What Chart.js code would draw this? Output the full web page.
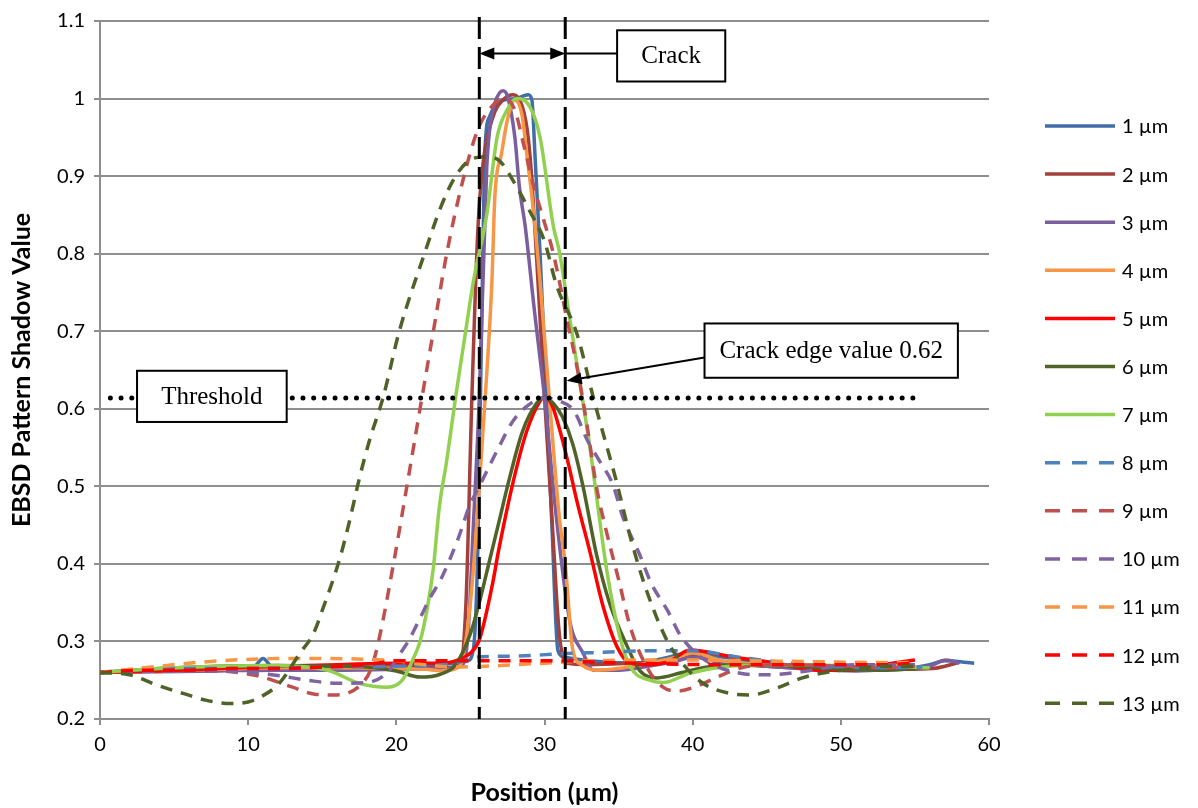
<!DOCTYPE html>
<html>
<head>
<meta charset="utf-8">
<title>EBSD Pattern Shadow Value</title>
<script src="https://cdn.jsdelivr.net/npm/chart.js@4.4.1/dist/chart.umd.min.js"></script>
<style>
  html, body { margin: 0; padding: 0; background: #fff; }
  #wrap { width: 1198px; height: 808px; }
  canvas { background: #fff; }
</style>
</head>
<body>
<div id="wrap"><canvas id="chart" width="1198" height="808"></canvas></div>
<script>
// Series: position (µm) and shadow value
const seriesLabels = ['1 µm', '2 µm', '3 µm', '4 µm', '5 µm', '6 µm', '7 µm',
                      '8 µm', '9 µm', '10 µm', '11 µm', '12 µm', '13 µm'];

const x1 = [0, 3, 6, 9, 10.3, 11, 11.7, 14, 17, 20, 22, 24, 24.8, 25.2, 25.5, 25.75, 26, 26.3, 27, 28.1, 28.9, 29.15, 29.35, 29.7, 30.1, 30.5, 30.9, 31.3, 33, 36, 38, 40, 42, 45, 48, 51, 54, 56, 57, 59];
const y1 = [0.26, 0.262, 0.264, 0.266, 0.266, 0.278, 0.266, 0.266, 0.266, 0.268, 0.27, 0.272, 0.275, 0.29, 0.42, 0.7, 0.94, 0.977, 0.996, 1.0, 1.005, 0.998, 0.93, 0.8, 0.63, 0.45, 0.289, 0.28, 0.275, 0.272, 0.278, 0.286, 0.28, 0.272, 0.268, 0.265, 0.265, 0.27, 0.275, 0.272];

const x2 = [0, 4, 8, 12, 16, 20, 23, 24.3, 24.7, 25.1, 25.5, 25.85, 26.5, 27.3, 27.9, 28.5, 28.9, 29.15, 29.6, 30.0, 30.5, 31.0, 31.5, 33, 36, 38, 40, 42, 45, 48, 51, 54, 56.2, 58];
const y2 = [0.26, 0.262, 0.264, 0.265, 0.266, 0.266, 0.266, 0.27, 0.35, 0.615, 0.83, 0.916, 0.975, 1.0, 1.005, 0.99, 0.95, 0.895, 0.75, 0.615, 0.46, 0.31, 0.272, 0.27, 0.272, 0.274, 0.282, 0.274, 0.268, 0.265, 0.263, 0.264, 0.265, 0.273];

const x3 = [0, 4, 8, 12, 16, 20, 23, 24.3, 24.8, 25.2, 25.6, 26.1, 26.3, 26.65, 27.2, 27.5, 28.0, 28.3, 28.7, 29.3, 30.0, 30.8, 31.7, 32.6, 33.3, 35, 37, 39, 40, 42, 45, 48, 51, 54, 56, 57.1, 58];
const y3 = [0.26, 0.261, 0.262, 0.263, 0.263, 0.264, 0.265, 0.268, 0.3, 0.45, 0.615, 0.91, 0.96, 0.994, 1.01, 1.003, 0.95, 0.887, 0.835, 0.73, 0.615, 0.46, 0.327, 0.285, 0.263, 0.263, 0.268, 0.275, 0.28, 0.272, 0.268, 0.264, 0.262, 0.265, 0.268, 0.276, 0.272];

const x4 = [0, 4, 8, 12, 16, 20, 22, 23, 24, 24.5, 25.0, 25.4, 26.0, 26.45, 26.65, 27.1, 27.5, 28.0, 28.5, 28.8, 29.2, 29.7, 30.3, 31.0, 31.4, 31.9, 32.5, 33.5, 35, 37, 39, 40, 42, 45, 48, 51, 54, 55];
const y4 = [0.26, 0.262, 0.264, 0.266, 0.266, 0.265, 0.264, 0.262, 0.265, 0.28, 0.35, 0.443, 0.615, 0.764, 0.874, 0.929, 0.973, 0.998, 0.977, 0.929, 0.865, 0.764, 0.62, 0.46, 0.4, 0.29, 0.27, 0.263, 0.265, 0.272, 0.28, 0.285, 0.275, 0.27, 0.268, 0.266, 0.268, 0.27];

const x5 = [0, 4, 8, 12, 16, 20, 23, 24, 25, 25.6, 26.5, 26.9, 27.9, 28.8, 29.7, 30.0, 30.5, 31.0, 31.6, 32.2, 33.1, 33.9, 34.9, 35.8, 37, 38.5, 39.8, 42.7, 45.7, 48.4, 50.5, 52.8, 55];
const y5 = [0.26, 0.262, 0.265, 0.268, 0.27, 0.272, 0.272, 0.275, 0.285, 0.302, 0.375, 0.417, 0.507, 0.571, 0.61, 0.615, 0.605, 0.575, 0.53, 0.48, 0.413, 0.349, 0.293, 0.272, 0.27, 0.275, 0.289, 0.28, 0.272, 0.263, 0.263, 0.27, 0.276];

const x6 = [0, 4, 8, 12, 16, 18, 20, 21.6, 23, 24, 25, 25.6, 26.3, 27.0, 27.5, 28.5, 29.5, 30.0, 30.6, 31.2, 31.9, 32.6, 33.5, 34.4, 35.6, 36.4, 37.6, 39.3, 41, 44, 47, 50, 53, 55];
const y6 = [0.26, 0.265, 0.268, 0.269, 0.268, 0.267, 0.262, 0.254, 0.258, 0.27, 0.31, 0.35, 0.405, 0.46, 0.5, 0.57, 0.608, 0.615, 0.607, 0.59, 0.555, 0.5, 0.413, 0.349, 0.293, 0.263, 0.253, 0.26, 0.267, 0.27, 0.268, 0.264, 0.263, 0.265];

const x7 = [0, 4, 8, 12, 14, 15.5, 17.5, 19.4, 20.4, 21.1, 21.6, 22.1, 22.5, 22.9, 23.4, 24.0, 24.6, 25.2, 26.1, 26.8, 27.5, 28.1, 29.0, 29.7, 30.6, 31.0, 31.7, 32.4, 33.1, 33.7, 34.2, 35.1, 35.8, 37.1, 38, 39.8, 42, 45, 48, 51, 53, 56];
const y7 = [0.26, 0.265, 0.268, 0.269, 0.267, 0.262, 0.246, 0.241, 0.25, 0.276, 0.3, 0.344, 0.395, 0.473, 0.533, 0.615, 0.69, 0.764, 0.85, 0.95, 0.986, 1.0, 0.99, 0.95, 0.835, 0.803, 0.717, 0.632, 0.546, 0.46, 0.392, 0.305, 0.267, 0.25, 0.247, 0.259, 0.267, 0.27, 0.27, 0.268, 0.268, 0.266];

const x8 = [0, 3, 6, 10, 15, 20, 24, 25.4, 28, 31, 34, 37, 40, 43, 46, 50, 53, 55.5];
const y8 = [0.26, 0.263, 0.265, 0.265, 0.267, 0.268, 0.272, 0.28, 0.281, 0.284, 0.286, 0.288, 0.288, 0.28, 0.273, 0.267, 0.266, 0.267];

const x9 = [0, 4, 8, 10, 11, 13, 14.5, 16, 17.7, 18.3, 18.8, 19.9, 20.8, 21.6, 22.5, 23.4, 24.5, 25.5, 26.6, 27.3, 28.0, 28.6, 29.3, 30.0, 30.6, 31.5, 32.2, 32.9, 33.5, 34.2, 35.0, 35.8, 36.9, 38.0, 39.0, 40.5, 42, 43.5, 46, 50, 53, 55];
const y9 = [0.26, 0.262, 0.262, 0.258, 0.254, 0.241, 0.232, 0.231, 0.246, 0.265, 0.3, 0.41, 0.51, 0.6, 0.7, 0.8, 0.895, 0.96, 0.993, 1.0, 0.985, 0.94, 0.885, 0.84, 0.8, 0.717, 0.653, 0.575, 0.5, 0.44, 0.38, 0.318, 0.267, 0.241, 0.236, 0.244, 0.257, 0.267, 0.27, 0.268, 0.266, 0.268];

const x10 = [0, 4, 8, 10, 12, 14, 16, 18, 19.5, 20.1, 20.8, 21.6, 22.3, 23.0, 24.2, 24.9, 25.6, 26.8, 27.9, 29.0, 30.0, 31.0, 32.0, 32.9, 33.7, 34.6, 35.3, 36.4, 37.2, 38.3, 39.2, 40.4, 41.6, 43.2, 45, 47, 49, 51, 53, 55];
const y10 = [0.26, 0.262, 0.262, 0.26, 0.256, 0.25, 0.246, 0.247, 0.262, 0.28, 0.3, 0.33, 0.357, 0.38, 0.434, 0.473, 0.5, 0.546, 0.585, 0.606, 0.614, 0.61, 0.597, 0.559, 0.533, 0.503, 0.46, 0.413, 0.375, 0.34, 0.307, 0.282, 0.268, 0.259, 0.257, 0.26, 0.266, 0.27, 0.27, 0.27];

const x11 = [0, 2, 4, 6, 9, 12, 15, 18, 20, 22, 24, 26, 28, 30, 33, 36, 40, 44, 48, 52, 54.8];
const y11 = [0.26, 0.264, 0.268, 0.272, 0.276, 0.278, 0.278, 0.277, 0.275, 0.27, 0.267, 0.268, 0.27, 0.272, 0.275, 0.276, 0.276, 0.275, 0.274, 0.273, 0.273];

const x12 = [0, 3, 6, 9, 12, 15, 18, 20, 23, 25, 28, 31, 34, 38, 42, 46, 50, 53, 55];
const y12 = [0.26, 0.263, 0.263, 0.265, 0.265, 0.267, 0.27, 0.275, 0.275, 0.275, 0.275, 0.275, 0.273, 0.271, 0.27, 0.27, 0.27, 0.27, 0.272];

const x13 = [0, 2, 3.8, 5.6, 7.2, 8.8, 10, 10.8, 12.1, 13.5, 14.4, 15.0, 16.2, 16.9, 17.5, 18.2, 19.1, 20.2, 21.9, 23.0, 24.0, 25.2, 26.2, 27.0, 28.1, 29.0, 30.0, 30.8, 32.2, 33.3, 34.9, 35.8, 36.9, 38.3, 39.3, 40.7, 42.5, 43.9, 45.7, 47.4, 49, 51, 53, 55];
const y13 = [0.26, 0.257, 0.244, 0.233, 0.224, 0.22, 0.222, 0.228, 0.246, 0.285, 0.31, 0.34, 0.408, 0.46, 0.51, 0.56, 0.614, 0.7, 0.8, 0.86, 0.9, 0.923, 0.925, 0.919, 0.887, 0.855, 0.816, 0.76, 0.696, 0.614, 0.503, 0.434, 0.365, 0.3, 0.272, 0.246, 0.233, 0.231, 0.24, 0.253, 0.26, 0.265, 0.268, 0.268];

const seriesX = [x1, x2, x3, x4, x5, x6, x7, x8, x9, x10, x11, x12, x13];
const seriesY = [y1, y2, y3, y4, y5, y6, y7, y8, y9, y10, y11, y12, y13];

const seriesColors = ['#3F6EA8', '#A3403C', '#7A5E9E', '#F79646', '#FF0000', '#4F6228', '#92D050',
                      '#4F81BD', '#C0504D', '#8064A2', '#F79646', '#FF0000', '#4F6228'];

// Annotation values (µm / shadow value)
const crackEdges = [25.6, 31.4];
const thresholdValue = 0.614;
const thresholdSpan = [0.7, 55];
const crackArrowLevel = 1.058;
const thresholdBox = { x0: 2.5, x1: 12.6, y0: 0.649, y1: 0.583, text: 'Threshold' };
const crackBox = { x0: 34.9, x1: 42.2, y0: 1.088, y1: 1.022, text: 'Crack' };
const edgeBox = { x0: 40.8, x1: 57.9, y0: 0.71, y1: 0.64, text: 'Crack edge value 0.62' };
const edgeArrow = { from: [40.8, 0.666], to: [31.5, 0.636] };

const FONT = 'Lato, "Open Sans", sans-serif';
const SERIF = '"Liberation Serif", "DejaVu Serif", serif';
const GRID = '#8e8e8e';

function toPoints(xs, ys) {
    return xs.map((x, i) => ({ x: x, y: ys[i] }));
}

const datasets = seriesLabels.map((label, i) => ({
    label: label,
    data: toPoints(seriesX[i], seriesY[i]),
    borderColor: seriesColors[i],
    backgroundColor: seriesColors[i],
    borderWidth: 3.5,
    borderDash: i >= 7 ? [12, 9] : [],
    pointRadius: 0,
    fill: false,
    cubicInterpolationMode: 'monotone',
    order: seriesLabels.length - i
}));

function arrowHead(ctx, fx, fy, tx, ty, len, half) {
    const a = Math.atan2(ty - fy, tx - fx);
    ctx.beginPath();
    ctx.moveTo(tx, ty);
    ctx.lineTo(tx - len * Math.cos(a) + half * Math.sin(a), ty - len * Math.sin(a) - half * Math.cos(a));
    ctx.lineTo(tx - len * Math.cos(a) - half * Math.sin(a), ty - len * Math.sin(a) + half * Math.cos(a));
    ctx.closePath();
    ctx.fill();
}

function textBox(ctx, x, y, box) {
    const l = x.getPixelForValue(box.x0), r = x.getPixelForValue(box.x1);
    const t = y.getPixelForValue(box.y0), b = y.getPixelForValue(box.y1);
    ctx.setLineDash([]);
    ctx.fillStyle = '#fff';
    ctx.fillRect(l, t, r - l, b - t);
    ctx.strokeStyle = '#000';
    ctx.lineWidth = 2;
    ctx.strokeRect(l, t, r - l, b - t);
    ctx.fillStyle = '#000';
    ctx.font = '25px ' + SERIF;
    ctx.textAlign = 'center';
    ctx.textBaseline = 'middle';
    ctx.fillText(box.text, (l + r) / 2, (t + b) / 2 + 1);
}

const annotations = {
    id: 'annotations',
    afterDatasetsDraw(chart) {
        const { ctx, chartArea } = chart;
        const x = chart.scales.x, y = chart.scales.y;
        ctx.save();
        ctx.strokeStyle = '#000';
        ctx.fillStyle = '#000';

        // threshold dotted line
        ctx.lineWidth = 5;
        ctx.lineCap = 'round';
        ctx.setLineDash([0, 10.7]);
        const ty = y.getPixelForValue(thresholdValue);
        ctx.beginPath();
        ctx.moveTo(x.getPixelForValue(thresholdSpan[0]), ty);
        ctx.lineTo(x.getPixelForValue(thresholdSpan[1]), ty);
        ctx.stroke();

        // crack edges
        ctx.lineCap = 'butt';
        ctx.lineWidth = 3;
        ctx.setLineDash([22, 8]);
        crackEdges.forEach(v => {
            const px = x.getPixelForValue(v);
            ctx.beginPath();
            ctx.moveTo(px, chartArea.top - 4);
            ctx.lineTo(px, chartArea.bottom);
            ctx.stroke();
        });

        // crack width double arrow + connector to label
        ctx.setLineDash([]);
        ctx.lineWidth = 2;
        const ay = y.getPixelForValue(crackArrowLevel);
        const ax0 = x.getPixelForValue(crackEdges[0]), ax1 = x.getPixelForValue(crackEdges[1]);
        const bx = x.getPixelForValue(crackBox.x0);
        ctx.beginPath();
        ctx.moveTo(ax0 + 8, ay);
        ctx.lineTo(ax1 - 8, ay);
        ctx.moveTo(ax1, ay);
        ctx.lineTo(bx, ay);
        ctx.stroke();
        arrowHead(ctx, ax1, ay, ax0, ay, 15, 6);
        arrowHead(ctx, ax0, ay, ax1, ay, 15, 6);

        // arrow to crack edge value
        const fx = x.getPixelForValue(edgeArrow.from[0]), fy = y.getPixelForValue(edgeArrow.from[1]);
        const tx = x.getPixelForValue(edgeArrow.to[0]), tyy = y.getPixelForValue(edgeArrow.to[1]);
        const ang = Math.atan2(tyy - fy, tx - fx);
        ctx.beginPath();
        ctx.moveTo(fx, fy);
        ctx.lineTo(tx - 12 * Math.cos(ang), tyy - 12 * Math.sin(ang));
        ctx.stroke();
        arrowHead(ctx, fx, fy, tx, tyy, 15, 6);

        textBox(ctx, x, y, thresholdBox);
        textBox(ctx, x, y, crackBox);
        textBox(ctx, x, y, edgeBox);
        ctx.restore();
    }
};

const legendLines = {
    id: 'legendLines',
    afterDraw(chart) {
        const ctx = chart.ctx;
        ctx.save();
        chart.data.datasets.forEach((ds, i) => {
            const ly = 126 + i * 48.1;
            ctx.strokeStyle = ds.borderColor;
            ctx.lineWidth = 3.5;
            ctx.setLineDash(ds.borderDash.length ? [15, 12] : []);
            ctx.beginPath();
            ctx.moveTo(1045, ly);
            ctx.lineTo(1115, ly);
            ctx.stroke();
            ctx.fillStyle = '#000';
            ctx.font = '20px ' + FONT;
            ctx.textAlign = 'left';
            ctx.textBaseline = 'middle';
            ctx.fillText(ds.label, 1122, ly + 1);
        });
        ctx.restore();
    }
};

new Chart(document.getElementById('chart').getContext('2d'), {
    type: 'line',
    data: { datasets: datasets },
    options: {
        responsive: false,
        animation: false,
        layout: { padding: { top: 19, right: 209, left: 0, bottom: 0 } },
        plugins: { legend: { display: false }, tooltip: { enabled: false } },
        scales: {
            x: {
                type: 'linear',
                min: 0,
                max: 60,
                ticks: { stepSize: 10, color: '#000', font: { family: FONT, size: 20 }, padding: 8 },
                grid: { drawOnChartArea: false, color: GRID, lineWidth: 2, tickLength: 6 },
                border: { color: GRID, width: 2 },
                title: {
                    display: true,
                    text: 'Position (µm)',
                    color: '#000',
                    font: { family: FONT, size: 25, weight: 'bold' },
                    padding: { top: 0, bottom: 0 }
                },
                afterFit(scale) { scale.height = 89; }
            },
            y: {
                type: 'linear',
                min: 0.2,
                max: 1.1,
                ticks: {
                    stepSize: 0.1,
                    color: '#000',
                    font: { family: FONT, size: 20 },
                    padding: 9,
                    callback: v => String(Number(v.toFixed(1)))
                },
                grid: { color: GRID, lineWidth: 2, tickLength: 6 },
                border: { color: GRID, width: 2 },
                title: {
                    display: true,
                    text: 'EBSD Pattern Shadow Value',
                    color: '#000',
                    font: { family: FONT, size: 25, weight: 'bold' },
                    padding: { top: 7, bottom: 4 }
                },
                afterFit(scale) { scale.width = 100; }
            }
        }
    },
    plugins: [annotations, legendLines]
});
</script>
</body>
</html>
